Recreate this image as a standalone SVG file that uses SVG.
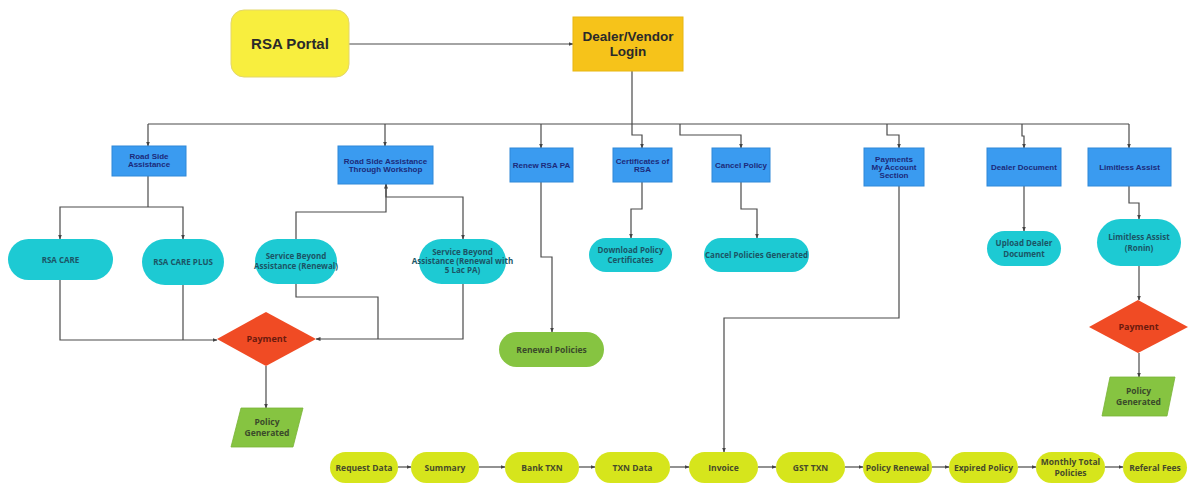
<svg xmlns="http://www.w3.org/2000/svg" width="1188" height="484" viewBox="0 0 1188 484">
<defs>
<marker id="ah" viewBox="0 0 10 10" refX="9" refY="5" markerWidth="5" markerHeight="5" orient="auto-start-reverse" markerUnits="userSpaceOnUse">
<path d="M0,1 L10,5 L0,9 z" fill="#444"/>
</marker>
<style>
.ln{fill:none;stroke:#4a4a4a;stroke-width:1.2}
.arr{marker-end:url(#ah)}
.top{font-family:"Liberation Sans",Arial,sans-serif;font-weight:bold;fill:#2a2a2a;text-anchor:middle}
.blue{fill:#3a9bf0;stroke:#2f88d8;stroke-width:1}
.bt{font-family:"Liberation Sans",Arial,sans-serif;font-weight:bold;font-size:8px;fill:#1c2a7a;text-anchor:middle}
.cyan{fill:#1dcad3}
.ct{font-family:"Open Sans","Noto Sans",sans-serif;font-weight:bold;font-size:8px;fill:#1b5566;text-anchor:middle}
.red{fill:#f04b24}
.rt{font-family:"Open Sans","Noto Sans",sans-serif;font-weight:bold;font-size:9px;fill:#6b1a0e;text-anchor:middle}
.green{fill:#86c441;stroke:#78b436;stroke-width:0.8}
.gt{font-family:"Open Sans","Noto Sans",sans-serif;font-weight:bold;font-size:8.5px;fill:#3a4a2a;text-anchor:middle}
.ylg{fill:#d6e51c}
.yt{font-family:"Open Sans","Noto Sans",sans-serif;font-weight:bold;font-size:8.5px;fill:#474a2a;text-anchor:middle}
</style>
</defs>
<rect width="1188" height="484" fill="#ffffff"/>

<g id="connectors">
<path class="ln arr" d="M349,44 H573"/>
<path class="ln" d="M632,71 V135 H642 V148" marker-end="url(#ah)"/>
<path class="ln" d="M148,124 H1129"/>
<path class="ln arr" d="M148,124 V146"/>
<path class="ln arr" d="M385,124 V146"/>
<path class="ln arr" d="M541,124 V148"/>
<path class="ln arr" d="M680,124 V135 H741 V148"/>
<path class="ln arr" d="M887,124 V135 H899 V148"/>
<path class="ln arr" d="M1022,124 V136 H1024 V148"/>
<path class="ln arr" d="M1129,124 V148"/>
<path class="ln" d="M148,176 V207"/>
<path class="ln arr" d="M148,207 H60 V239"/>
<path class="ln arr" d="M148,207 H183 V239"/>
<path class="ln arr" d="M296,239 V212 H386 V184"/>
<path class="ln arr" d="M386,184 V197 H463 V239"/>
<path class="ln arr" d="M60,280 V340 H217"/>
<path class="ln" d="M183,285 V340"/>
<path class="ln" d="M296,284 V297 H378 V339"/>
<path class="ln arr" d="M463,284 V339 H316"/>
<path class="ln arr" d="M266,366 V408"/>
<path class="ln arr" d="M541,182 V257 H552 V332"/>
<path class="ln arr" d="M642,182 V209 H631 V238"/>
<path class="ln arr" d="M741,182 V209 H757 V238"/>
<path class="ln arr" d="M899,186 V318 H724 V452"/>
<path class="ln arr" d="M1024,186 V231" stroke-width="1.6"/>
<path class="ln arr" d="M1129,186 V203 H1139 V219"/>
<path class="ln arr" d="M1139,266 V300"/>
<path class="ln arr" d="M1139,353 V377"/>
<path class="ln arr" d="M398,467 H411"/>
<path class="ln arr" d="M479,467 H505"/>
<path class="ln arr" d="M579,467 H595"/>
<path class="ln arr" d="M670,467 H689"/>
<path class="ln arr" d="M758,467 H776"/>
<path class="ln arr" d="M845,467 H863"/>
<path class="ln arr" d="M932,467 H949"/>
<path class="ln arr" d="M1018,467 H1036"/>
<path class="ln arr" d="M1105,467 H1123"/>
</g>

<g id="rsa-portal">
<rect x="231" y="10" width="118" height="67" rx="13" fill="#f8ee3e" stroke="#e3d66a" stroke-width="1"/>
<text class="top" x="290" y="49" font-size="15">RSA Portal</text>
</g>
<g id="dealer-login">
<rect x="573" y="17" width="110" height="54" fill="#f6c31a" stroke="#e8b610" stroke-width="1"/>
<text class="top" x="628" y="41" font-size="13.5">Dealer/Vendor</text>
<text class="top" x="628" y="56" font-size="13.5">Login</text>
</g>

<g id="road-side-assistance">
<rect class="blue" x="112" y="146" width="74" height="30"/>
<text class="bt" x="149" y="159">Road Side</text>
<text class="bt" x="149" y="167">Assistance</text>
</g>
<g id="rsa-workshop">
<rect class="blue" x="338" y="146" width="95" height="38"/>
<text class="bt" x="385.5" y="164">Road Side Assistance</text>
<text class="bt" x="385.5" y="172">Through Workshop</text>
</g>
<g id="renew-rsa-pa">
<rect class="blue" x="510" y="148" width="63" height="34"/>
<text class="bt" x="541.5" y="168">Renew RSA PA</text>
</g>
<g id="certificates">
<rect class="blue" x="613" y="148" width="59" height="34"/>
<text class="bt" x="642.5" y="164">Certificates of</text>
<text class="bt" x="642.5" y="172">RSA</text>
</g>
<g id="cancel-policy">
<rect class="blue" x="712" y="148" width="58" height="34"/>
<text class="bt" x="741" y="168">Cancel Policy</text>
</g>
<g id="payments">
<rect class="blue" x="864" y="148" width="60" height="38"/>
<text class="bt" x="894" y="162">Payments</text>
<text class="bt" x="894" y="170">My Account</text>
<text class="bt" x="894" y="178">Section</text>
</g>
<g id="dealer-document">
<rect class="blue" x="987" y="148" width="74" height="38"/>
<text class="bt" x="1024" y="170">Dealer Document</text>
</g>
<g id="limitless-assist">
<rect class="blue" x="1088" y="148" width="83" height="38"/>
<text class="bt" x="1129.5" y="170">Limitless Assist</text>
</g>

<g id="rsa-care">
<rect class="cyan" x="8" y="239" width="105" height="41" rx="20.5"/>
<text class="ct" x="60.5" y="262.5" font-size="8.5">RSA CARE</text>
</g>
<g id="rsa-care-plus">
<rect class="cyan" x="142" y="239" width="82" height="46" rx="23"/>
<text class="ct" x="183" y="265" font-size="8.5">RSA CARE PLUS</text>
</g>
<g id="sba-renewal">
<rect class="cyan" x="255" y="239" width="82" height="45" rx="22.5"/>
<text class="ct" x="296" y="259" font-size="6.6">Service Beyond</text>
<text class="ct" x="296" y="268.5" font-size="6.6">Assistance (Renewal)</text>
</g>
<g id="sba-renewal-5lac">
<rect class="cyan" x="419" y="239" width="87" height="45" rx="22.5"/>
<text class="ct" x="462.5" y="255" font-size="6.4">Service Beyond</text>
<text class="ct" x="462.5" y="264" font-size="6.4">Assistance (Renewal with</text>
<text class="ct" x="462.5" y="273" font-size="6.4">5 Lac PA)</text>
</g>
<g id="download-certificates">
<rect class="cyan" x="589" y="238" width="83" height="34" rx="17"/>
<text class="ct" x="630.5" y="253" font-size="7">Download Policy</text>
<text class="ct" x="630.5" y="262.5" font-size="7">Certificates</text>
</g>
<g id="cancel-generated">
<rect class="cyan" x="704" y="238" width="105" height="34" rx="17"/>
<text class="ct" x="756.5" y="257.5" font-size="7">Cancel Policies Generated</text>
</g>
<g id="upload-dealer-document">
<rect class="cyan" x="987" y="231" width="74" height="35" rx="17.5"/>
<text class="ct" x="1024" y="246" font-size="8.5">Upload Dealer</text>
<text class="ct" x="1024" y="257" font-size="8.5">Document</text>
</g>
<g id="limitless-ronin">
<rect class="cyan" x="1097" y="219" width="84" height="47" rx="23.5"/>
<text class="ct" x="1139" y="240" font-size="8.5">Limitless Assist</text>
<text class="ct" x="1139" y="251" font-size="8.5">(Ronin)</text>
</g>

<g id="renewal-policies">
<rect x="499" y="332" width="105" height="35" rx="17.5" fill="#86c441"/>
<text class="gt" x="551.5" y="352.5" font-size="7">Renewal Policies</text>
</g>

<g id="payment-1">
<polygon class="red" points="266,312 316,339 266,366 217,339"/>
<text class="rt" x="266.5" y="342">Payment</text>
</g>
<g id="policy-generated-1">
<polygon class="green" points="241,408 303,408 293,447 231,447"/>
<text class="gt" x="267" y="425">Policy</text>
<text class="gt" x="267" y="436">Generated</text>
</g>
<g id="payment-2">
<polygon class="red" points="1138,300 1188,327 1138,353 1089,327"/>
<text class="rt" x="1138.5" y="330">Payment</text>
</g>
<g id="policy-generated-2">
<polygon class="green" points="1110,377 1175,377 1167,416 1102,416"/>
<text class="gt" x="1138.5" y="394">Policy</text>
<text class="gt" x="1138.5" y="405">Generated</text>
</g>

<g id="request-data"><rect class="ylg" x="330" y="452" width="68" height="31" rx="15.5"/><text class="yt" x="364" y="470.5">Request Data</text></g>
<g id="summary"><rect class="ylg" x="411" y="452" width="68" height="31" rx="15.5"/><text class="yt" x="445" y="470.5">Summary</text></g>
<g id="bank-txn"><rect class="ylg" x="505" y="452" width="74" height="31" rx="15.5"/><text class="yt" x="542" y="470.5">Bank TXN</text></g>
<g id="txn-data"><rect class="ylg" x="595" y="452" width="75" height="31" rx="15.5"/><text class="yt" x="632.5" y="470.5">TXN Data</text></g>
<g id="invoice"><rect class="ylg" x="689" y="452" width="69" height="31" rx="15.5"/><text class="yt" x="723.5" y="470.5">Invoice</text></g>
<g id="gst-txn"><rect class="ylg" x="776" y="452" width="69" height="31" rx="15.5"/><text class="yt" x="810.5" y="470.5">GST TXN</text></g>
<g id="policy-renewal"><rect class="ylg" x="863" y="452" width="69" height="31" rx="15.5"/><text class="yt" x="897.5" y="470.5">Policy Renewal</text></g>
<g id="expired-policy"><rect class="ylg" x="949" y="452" width="69" height="31" rx="15.5"/><text class="yt" x="983.5" y="470.5">Expired Policy</text></g>
<g id="monthly-total"><rect class="ylg" x="1036" y="452" width="69" height="31" rx="15.5"/><text class="yt" x="1070.5" y="465">Monthly Total</text><text class="yt" x="1070.5" y="475.5">Policies</text></g>
<g id="referal-fees"><rect class="ylg" x="1123" y="452" width="64" height="31" rx="15.5"/><text class="yt" x="1155" y="470.5">Referal Fees</text></g>
</svg>
